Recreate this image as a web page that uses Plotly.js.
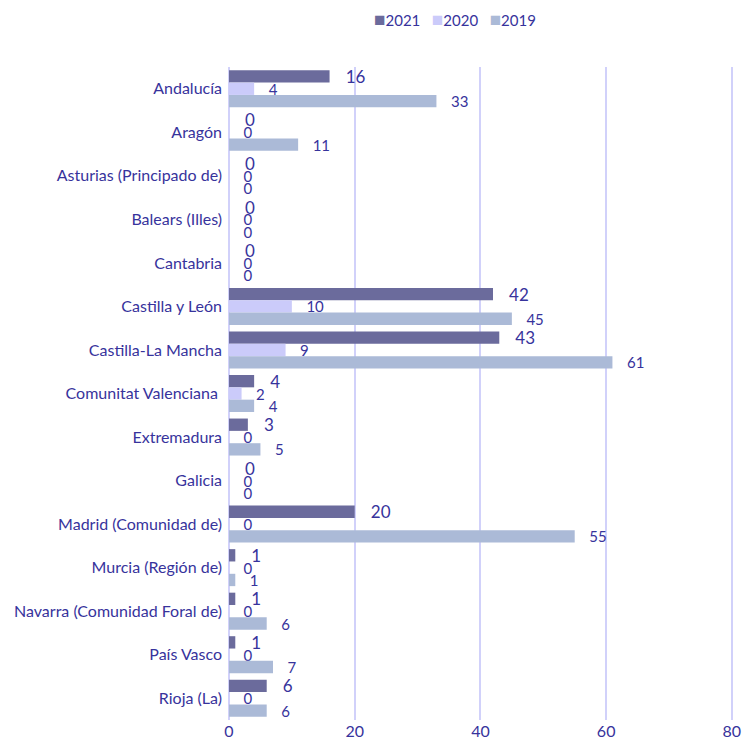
<!DOCTYPE html>
<html><head><meta charset="utf-8">
<script src="https://cdn.plot.ly/plotly-3.0.1.min.js"></script>
<style>html,body{margin:0;padding:0;background:#fff}#c{width:742px;height:743px}</style>
</head><body><div id="c"></div>
<script>
const regions = ["Andalucía","Aragón","Asturias (Principado de)","Balears (Illes)","Cantabria","Castilla y León","Castilla-La Mancha","Comunitat Valenciana ","Extremadura","Galicia","Madrid (Comunidad de)","Murcia (Región de)","Navarra (Comunidad Foral de)","País Vasco","Rioja (La)"];
const v2021 = [16,0,0,0,0,42,43,4,3,0,20,1,1,1,6];
const v2020 = [4,0,0,0,0,10,9,2,0,0,0,0,0,0,0];
const v2019 = [33,11,0,0,0,45,61,4,5,0,55,1,6,7,6];
const seriesNames = ["2021","2020","2019"];
const colors = ["#6b6b9c","#cbcbfa","#abbad7"];
const txtColor = "#37339c";
const pad = "\u00a0\u00a0\u00a0";
function mk(name, vals, color, fsize){
  return {type:"bar", orientation:"h", name:name, y:regions, x:vals, marker:{color:color},
    text: vals.map(v=>pad+v), textposition:"outside", cliponaxis:false, constraintext:"none",
    textfont:{size:fsize,color:txtColor,family:"Lato, sans-serif"}, hoverinfo:"x+y", showlegend:false};
}
const data = [mk(seriesNames[0],v2021,colors[0],17), mk(seriesNames[1],v2020,colors[1],15), mk(seriesNames[2],v2019,colors[2],15)];
const legendText = seriesNames.map((n,i)=>'<span style="color:'+colors[i]+';font-size:19px">■</span>'+n).join('\u00a0\u00a0\u00a0');
const layout = {
  width:742, height:743, barmode:"group", bargap:0.15, bargroupgap:0,
  margin:{l:229,r:7,t:67,b:23}, paper_bgcolor:"#fff", plot_bgcolor:"#fff",
  font:{family:"Lato, sans-serif", color:txtColor, size:15},
  showlegend:false,
  annotations:[{xref:"paper", yref:"paper", x:0.2826, y:1.075, xanchor:"left", yanchor:"middle", showarrow:false, text:legendText, font:{size:15,color:txtColor}}],
  xaxis:{range:[0,80.5], tickvals:[0,20,40,60,80], showgrid:true, gridcolor:"#d1d1fa", gridwidth:2, zeroline:true, zerolinecolor:"#d1d1fa", zerolinewidth:2, tickfont:{size:16,color:txtColor}, showline:false, ticks:""},
  yaxis:{autorange:"reversed", showgrid:false, zeroline:false, tickfont:{size:16,color:txtColor}, ticks:"", showline:false, ticklabelstandoff:6}
};
Plotly.newPlot("c", data, layout, {displayModeBar:false});
</script></body></html>
